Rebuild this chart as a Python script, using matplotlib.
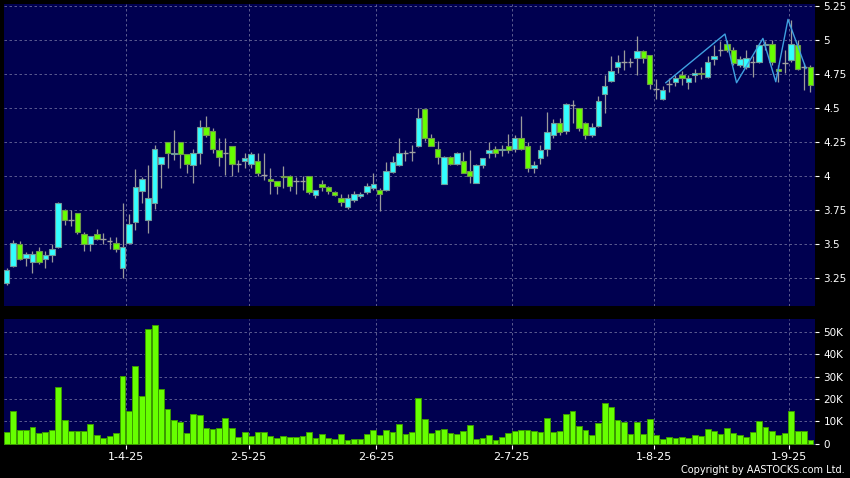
import numpy as np
import matplotlib
matplotlib.use('Agg')
import matplotlib.pyplot as plt

# daily OHLC (one row per trading day)
opens = [3.21, 3.34, 3.50, 3.40, 3.37, 3.45, 3.39, 3.42, 3.48, 3.75,
         3.68, 3.73, 3.57, 3.50, 3.57, 3.54, 3.52, 3.51, 3.32, 3.51,
         3.66, 3.89, 3.68, 3.80, 4.09, 4.25, 4.16, 4.25, 4.16, 4.08,
         4.17, 4.36, 4.33, 4.19, 4.17, 4.22, 4.09, 4.11, 4.09, 4.11,
         4.01, 3.98, 3.96, 4.00, 4.00, 3.96, 3.96, 4.00, 3.86, 3.94,
         3.92, 3.88, 3.84, 3.77, 3.82, 3.85, 3.88, 3.91, 3.90, 3.90,
         4.03, 4.08, 4.17, 4.18, 4.22, 4.49, 4.28, 4.20, 3.94, 4.14,
         4.09, 4.11, 4.04, 3.95, 4.08, 4.17, 4.20, 4.19, 4.22, 4.20,
         4.28, 4.22, 4.06, 4.13, 4.20, 4.30, 4.39, 4.33, 4.52, 4.50,
         4.39, 4.30, 4.37, 4.60, 4.70, 4.80, 4.84, 4.84, 4.87, 4.92,
         4.89, 4.64, 4.57, 4.68, 4.69, 4.74, 4.69, 4.74, 4.76, 4.73,
         4.86, 4.93, 4.97, 4.93, 4.82, 4.80, 4.84, 4.84, 4.96, 4.97,
         4.79, 4.83, 4.85, 4.96, 4.80, 4.80]
highs = [3.32, 3.53, 3.52, 3.44, 3.45, 3.48, 3.45, 3.50, 3.81, 3.76,
         3.75, 3.73, 3.59, 3.56, 3.61, 3.58, 3.55, 3.55, 3.80, 3.72,
         4.05, 3.99, 4.08, 4.23, 4.14, 4.25, 4.34, 4.25, 4.16, 4.20,
         4.41, 4.44, 4.35, 4.28, 4.28, 4.22, 4.12, 4.17, 4.18, 4.17,
         4.17, 4.06, 3.96, 4.07, 4.01, 3.99, 4.00, 4.00, 3.90, 3.97,
         3.93, 3.89, 3.87, 3.87, 3.89, 3.88, 3.95, 4.02, 3.91, 4.10,
         4.15, 4.28, 4.19, 4.23, 4.50, 4.49, 4.31, 4.26, 4.15, 4.15,
         4.18, 4.18, 4.19, 4.09, 4.13, 4.25, 4.22, 4.23, 4.31, 4.30,
         4.44, 4.25, 4.11, 4.23, 4.47, 4.42, 4.43, 4.54, 4.56, 4.50,
         4.40, 4.39, 4.59, 4.74, 4.88, 4.89, 4.93, 4.87, 5.03, 4.93,
         4.89, 4.71, 4.66, 4.72, 4.74, 4.77, 4.74, 4.79, 4.80, 4.88,
         4.96, 4.99, 5.00, 4.95, 4.88, 4.93, 4.88, 4.98, 4.99, 5.00,
         4.82, 4.93, 5.15, 5.00, 4.83, 4.82]
lows = [3.20, 3.33, 3.38, 3.34, 3.29, 3.35, 3.32, 3.37, 3.47, 3.64,
        3.63, 3.57, 3.45, 3.45, 3.53, 3.50, 3.46, 3.44, 3.25, 3.50,
        3.60, 3.80, 3.58, 3.76, 3.91, 4.06, 4.12, 4.06, 4.02, 3.95,
        4.09, 4.29, 4.17, 4.07, 4.01, 4.00, 4.03, 4.06, 4.06, 4.00,
        3.97, 3.87, 3.87, 3.91, 3.89, 3.87, 3.90, 3.87, 3.84, 3.89,
        3.87, 3.85, 3.78, 3.76, 3.81, 3.84, 3.87, 3.90, 3.74, 3.89,
        4.02, 4.07, 4.11, 4.11, 4.21, 4.26, 4.22, 4.09, 3.94, 4.08,
        4.08, 4.02, 3.95, 3.95, 4.06, 4.13, 4.14, 4.15, 4.17, 4.18,
        4.19, 4.03, 4.02, 4.09, 4.15, 4.28, 4.30, 4.31, 4.39, 4.33,
        4.27, 4.29, 4.36, 4.46, 4.69, 4.76, 4.78, 4.80, 4.74, 4.83,
        4.64, 4.57, 4.56, 4.62, 4.66, 4.67, 4.64, 4.69, 4.71, 4.72,
        4.82, 4.88, 4.91, 4.82, 4.80, 4.79, 4.73, 4.83, 4.93, 4.82,
        4.69, 4.76, 4.84, 4.78, 4.63, 4.62]
closes = [3.31, 3.51, 3.39, 3.43, 3.43, 3.37, 3.42, 3.46, 3.80, 3.68,
          3.68, 3.59, 3.50, 3.56, 3.54, 3.54, 3.52, 3.46, 3.48, 3.65,
          3.92, 3.98, 3.84, 4.20, 4.14, 4.17, 4.17, 4.16, 4.09, 4.17,
          4.36, 4.30, 4.20, 4.14, 4.17, 4.09, 4.09, 4.13, 4.16, 4.02,
          4.01, 3.96, 3.93, 3.99, 3.93, 3.96, 3.96, 3.88, 3.90, 3.92,
          3.89, 3.86, 3.81, 3.84, 3.87, 3.87, 3.93, 3.94, 3.87, 4.04,
          4.10, 4.17, 4.17, 4.18, 4.43, 4.28, 4.22, 4.14, 4.14, 4.09,
          4.17, 4.02, 4.00, 4.08, 4.13, 4.19, 4.17, 4.20, 4.19, 4.28,
          4.20, 4.06, 4.08, 4.19, 4.32, 4.39, 4.32, 4.53, 4.52, 4.35,
          4.30, 4.36, 4.55, 4.66, 4.77, 4.84, 4.84, 4.84, 4.92, 4.87,
          4.68, 4.64, 4.63, 4.68, 4.72, 4.72, 4.72, 4.76, 4.75, 4.84,
          4.88, 4.93, 4.93, 4.83, 4.86, 4.87, 4.84, 4.96, 4.97, 4.84,
          4.77, 4.83, 4.97, 4.79, 4.80, 4.67]

# volume in thousands of shares
volume_k = [5.4, 14.8, 6.1, 6.0, 7.6, 4.6, 5.4, 6.0, 25.3, 10.6,
            5.8, 5.5, 5.5, 8.8, 3.9, 2.5, 3.3, 4.6, 30.3, 14.6,
            35.0, 21.4, 51.4, 53.1, 24.7, 15.5, 10.6, 9.9, 4.8, 13.2,
            13.0, 7.2, 6.6, 6.9, 11.5, 7.0, 2.8, 5.1, 3.4, 5.2,
            5.4, 3.6, 2.4, 3.6, 3.0, 3.1, 3.6, 5.1, 2.5, 4.3,
            2.5, 2.2, 4.3, 1.5, 1.9, 1.9, 4.3, 6.0, 4.0, 6.0,
            5.2, 8.7, 4.5, 5.4, 20.3, 11.1, 4.8, 6.1, 6.4, 4.6,
            4.3, 5.7, 8.5, 1.9, 2.7, 3.9, 1.6, 3.0, 4.8, 5.5,
            6.0, 6.1, 5.8, 5.2, 11.4, 5.2, 5.6, 13.2, 14.6, 8.1,
            6.1, 3.9, 9.4, 18.4, 16.3, 10.8, 9.9, 4.3, 9.9, 4.2,
            11.1, 3.7, 2.1, 3.0, 2.5, 3.0, 2.4, 3.7, 3.4, 6.6,
            5.8, 4.3, 7.0, 4.8, 3.7, 3.1, 5.1, 10.2, 7.5, 5.5,
            3.9, 4.6, 14.8, 5.8, 5.8, 1.6]

# month-start labels and where they sit (in trading-day slots)
date_labels = ['1-4-25', '2-5-25', '2-6-25', '2-7-25', '1-8-25', '1-9-25']
date_pos = [18.6, 37.6, 57.5, 78.5, 100.6, 121.6]

# zig-zag overlay (slot, price)
zz_x = [102.5, 111.7, 113.5, 117.6, 119.6, 121.5, 124.3]
zz_y = [4.686, 5.044, 4.686, 5.012, 4.693, 5.152, 4.79]

price_ticks = [3.25, 3.5, 3.75, 4, 4.25, 4.5, 4.75, 5, 5.25]
vol_ticks = [0, 10, 20, 30, 40, 50]

o = np.array(opens); h = np.array(highs); l = np.array(lows); c = np.array(closes)
x = np.arange(len(o))

BG = '#000050'
UP = '#33ffff'
DOWN = '#66ff00'
GRID = '#6a6a9a'

W, H = 850, 478
fig = plt.figure(figsize=(W / 100, H / 100), dpi=100, facecolor='black')
ax = fig.add_axes([4 / W, 1 - 306 / H, 811 / W, 302 / H], facecolor=BG)
axv = fig.add_axes([4 / W, 1 - 445 / H, 811 / W, 126 / H], facecolor=BG)

for a in (ax, axv):
    a.set_xlim(-0.43, 125.7)
    for s in a.spines.values():
        s.set_visible(False)
    a.yaxis.tick_right()
    a.tick_params(axis='y', colors='white', labelsize=7.5, length=3, width=0.8, pad=3)
    a.set_xticks(date_pos)
    a.grid(True, color=GRID, linestyle=(0, (3, 3)), linewidth=0.6)
    a.set_axisbelow(True)

ax.set_ylim(3.044, 5.265)
ax.set_yticks(price_ticks)
ax.set_yticklabels(['%g' % t for t in price_ticks])
ax.tick_params(axis='x', length=0, labelbottom=False)

# candles
w = 0.85
up = c > o
down = c < o
flat = c == o
ax.vlines(x, l, h, color='#9a9a9a', linewidth=0.9, zorder=2)
ax.bar(x[up], (c - o)[up], bottom=o[up], width=w, color=UP,
       edgecolor='#6f9a9a', linewidth=0.8, zorder=3)
ax.bar(x[down], (o - c)[down], bottom=c[down], width=w, color=DOWN,
       edgecolor='#6f9a4a', linewidth=0.8, zorder=3)
ax.hlines(o[flat], x[flat] - w / 2, x[flat] + w / 2, color='#a0a0a0', linewidth=1, zorder=3)

ax.plot(zz_x, zz_y, color='#3fa0e0', linewidth=1, zorder=4)

# volume
axv.set_ylim(-0.6, 55.9)
axv.set_yticks(vol_ticks)
axv.set_yticklabels(['0' if t == 0 else '%dK' % t for t in vol_ticks])
axv.bar(x, volume_k, width=0.9, color=DOWN, edgecolor='#3c9a00', linewidth=0.7, zorder=3)
axv.set_xticklabels(date_labels)
axv.tick_params(axis='x', colors='white', labelsize=8, length=3, width=0.8, pad=2)

fig.text(845 / W, 1 - 470 / H, 'Copyright by AASTOCKS.com Ltd.', color='white',
         fontsize=7, ha='right', va='center')

fig.savefig('out.png', dpi=100, facecolor='black')
